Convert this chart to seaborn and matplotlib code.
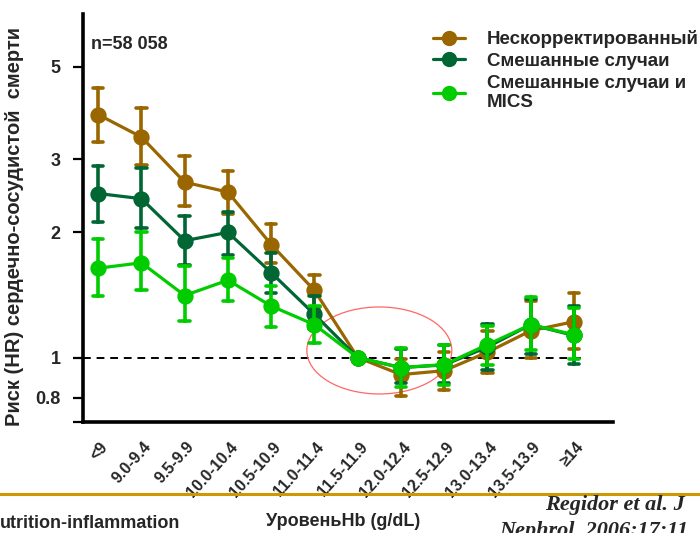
import numpy as np
import pandas as pd
import matplotlib
matplotlib.use("Agg")
import matplotlib.pyplot as plt
from matplotlib.lines import Line2D
from matplotlib.patches import Ellipse
import seaborn as sns

# Hb categories (g/dL)
categories = ["<9", "9.0-9.4", "9.5-9.9", "10.0-10.4", "10.5-10.9", "11.0-11.4",
              "11.5-11.9", "12.0-12.4", "12.5-12.9", "13.0-13.4", "13.5-13.9", "≥14"]

series_names = ["Нескорректированный", "Смешанные случаи", "Смешанные случаи и\nMICS"]

# Hazard ratios with lower / upper 95% CI
hr_unadj = [3.84, 3.39, 2.64, 2.50, 1.87, 1.45, 1.00, 0.91, 0.93, 1.03, 1.16, 1.22]
lo_unadj = [3.30, 2.90, 2.32, 2.21, 1.69, 1.32, 1.00, 0.81, 0.835, 0.92, 1.00, 1.05]
hi_unadj = [4.46, 3.99, 3.05, 2.81, 2.09, 1.58, 1.00, 0.99, 1.03, 1.16, 1.37, 1.43]

hr_cm = [2.48, 2.41, 1.91, 2.00, 1.60, 1.27, 1.00, 0.946, 0.96, 1.06, 1.20, 1.13]
lo_cm = [2.12, 2.05, 1.67, 1.76, 1.43, 1.17, 1.00, 0.87, 0.87, 0.936, 1.02, 0.967]
hi_cm = [2.89, 2.86, 2.19, 2.24, 1.78, 1.41, 1.00, 1.05, 1.07, 1.205, 1.38, 1.33]

hr_mics = [1.64, 1.69, 1.41, 1.535, 1.33, 1.20, 1.00, 0.946, 0.962, 1.074, 1.20, 1.135]
lo_mics = [1.41, 1.45, 1.225, 1.37, 1.185, 1.086, 1.00, 0.848, 0.857, 0.957, 1.045, 0.99]
hi_mics = [1.93, 2.00, 1.66, 1.74, 1.49, 1.33, 1.00, 1.056, 1.074, 1.19, 1.40, 1.316]

y_ticks = [5, 3, 2, 1, 0.8, 0.7]
y_tick_labels = ["5", "3", "2", "1", "0.8", ""]

colors = ["#996600", "#006633", "#00cc00"]

# Long table: each point carries its estimate and CI bounds, so the median
# gives the estimate and the full percentile interval gives the CI.
rows = []
for name, hr, lo, hi in zip(series_names,
                            [hr_unadj, hr_cm, hr_mics],
                            [lo_unadj, lo_cm, lo_mics],
                            [hi_unadj, hi_cm, hi_mics]):
    for c, e, l, h in zip(categories, hr, lo, hi):
        for v in (l, e, h):
            rows.append({"Hb": c, "HR": v, "series": name})
df = pd.DataFrame(rows)

sns.set_theme(style="white")
plt.rcParams["font.family"] = ["Liberation Sans", "DejaVu Sans"]
plt.rcParams["font.weight"] = "bold"

fig = plt.figure(figsize=(7.0, 5.33), dpi=100)
ax = fig.add_axes([0.1186, 0.2083, 0.757, 0.7654])

sns.pointplot(data=df, x="Hb", y="HR", hue="series", order=categories,
              hue_order=series_names, palette=colors,
              estimator="median", errorbar=("pi", 100),
              markers="o", markersize=10, linewidth=2.3,
              capsize=0.24, err_kws={"linewidth": 2.6},
              dodge=False, legend=False, log_scale=True, ax=ax)

ax.set_yscale("log")
ax.set_ylim(0.7, 6.7)
ax.set_xlim(-0.35, 11.9)
ax.minorticks_off()
ax.set_yticks(y_ticks)
ax.set_yticklabels(y_tick_labels)
ax.yaxis.set_minor_locator(matplotlib.ticker.NullLocator())
ax.tick_params(axis="y", which="major", left=True, length=7, width=1.6,
               labelsize=13, pad=9, color="black")
ax.tick_params(axis="x", bottom=False, length=0, pad=6)
for lab in ax.get_yticklabels():
    lab.set_fontweight("bold")

ax.set_xticks(range(len(categories)))
ax.set_xticklabels(categories, rotation=48, ha="right", va="center",
                   rotation_mode="anchor", fontsize=11.5, fontweight="bold")
offset = matplotlib.transforms.ScaledTranslation(7 / 100, -14 / 100, fig.dpi_scale_trans)
for lab in ax.get_xticklabels():
    lab.set_transform(lab.get_transform() + offset)

for side in ["top", "right"]:
    ax.spines[side].set_visible(False)
for side in ["left", "bottom"]:
    ax.spines[side].set_linewidth(2.6)
    ax.spines[side].set_color("black")

ax.set_xlabel("")
ax.set_ylabel("Риск (HR) сердечно-сосудистой  смерти", fontsize=14.5,
              fontweight="bold", labelpad=6)
ax.yaxis.set_label_coords(-0.112, 0.48)

# reference line at HR = 1
ax.hlines(1.0, -0.35, 11.2, colors="black", linestyles=(0, (4, 3)), linewidth=1.4, zorder=1)

# highlight of the nadir region
to_axes = ax.transScale + ax.transLimits
cx, cy = to_axes.transform((6.5, 1.04))
ax.add_patch(Ellipse((cx, cy), 145 / 530, 87 / 408, transform=ax.transAxes,
                     fill=False, edgecolor="#ff6666", linewidth=0.9, clip_on=False))

ax.text(0.015, 0.926, "n=58 058", transform=ax.transAxes, fontsize=13,
        fontweight="bold", ha="left", va="center")

handles = [Line2D([0], [0], color=c, linewidth=2.3, marker="o", markersize=10)
           for c in colors]
fig.legend(handles, series_names, loc="upper left", bbox_to_anchor=(0.594, 0.975),
           frameon=False, handlelength=1.7, handletextpad=1.2,
           labelspacing=0.25, prop={"weight": "bold", "size": 13.5})

# footer
fig.add_artist(Line2D([0, 1], [1 - 494 / 533, 1 - 494 / 533], color="#cc9900",
                      linewidth=2.2, transform=fig.transFigure))
fig.text(0.0, 1 - 524 / 533, "utrition-inflammation", fontsize=13,
         fontweight="bold", ha="left", va="center")
fig.text(0.49, 1 - 522 / 533, "УровеньHb (g/dL)", fontsize=13,
         fontweight="bold", ha="center", va="center")
fig.text(0.778, 1 - 505 / 533, "Regidor et al. J", fontsize=16,
         family="Liberation Serif", style="italic", fontweight="bold",
         ha="left", va="center")
fig.text(0.713, 1 - 531 / 533, "Nephrol. 2006;17:11", fontsize=16,
         family="Liberation Serif", style="italic", fontweight="bold",
         ha="left", va="center")

fig.savefig("out.png", dpi=100)
